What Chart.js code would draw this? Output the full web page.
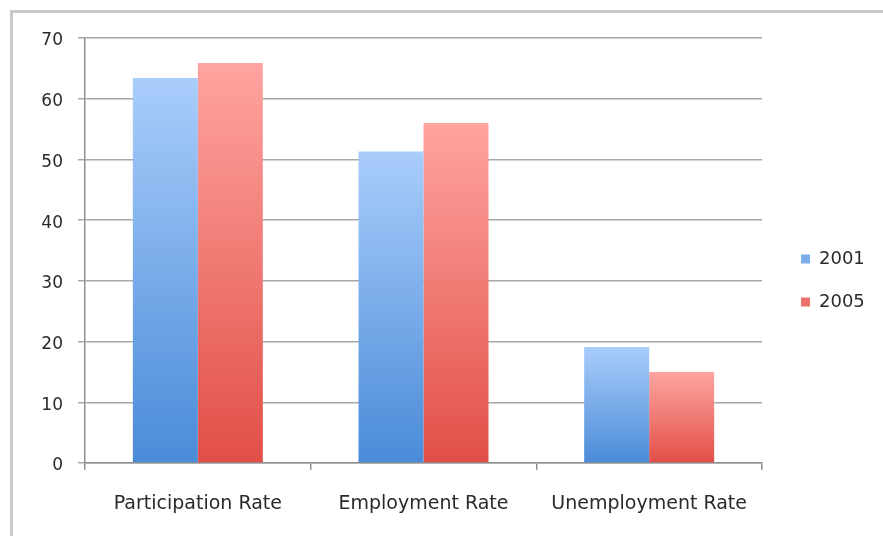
<!DOCTYPE html>
<html>
<head>
<meta charset="utf-8">
<script src="https://cdn.jsdelivr.net/npm/chart.js@4/dist/chart.umd.min.js"></script>
<style>
  html, body { margin: 0; padding: 0; background: #fff; overflow: hidden; }
  #wrap { position: relative; width: 883px; height: 536px; overflow: hidden; }
  #frameTop { position: absolute; left: 10px; top: 10px; width: 873px; height: 3px; background: #c9c9c9; }
  #frameLeft { position: absolute; left: 10px; top: 10px; width: 3px; height: 526px; background: #c9c9c9; }
  canvas { position: absolute; left: 0; top: 0; }
</style>
</head>
<body>
<div id="wrap">
  <div id="frameTop"></div>
  <div id="frameLeft"></div>
  <canvas id="c" width="883" height="536"></canvas>
</div>
<script>
const categories = ['Participation Rate', 'Employment Rate', 'Unemployment Rate'];
const seriesNames = ['2001', '2005'];
const values2001 = [63.4, 51.3, 19.1];
const values2005 = [65.9, 56.0, 15.0];
const yMin = 0;
const yMax = 70;
const yStep = 10;

const palette = {
  '2001': { top: '#a9cdfb', bottom: '#4a8bd8', solid: '#5c96e0' },
  '2005': { top: '#ffa4a0', bottom: '#e14f47', solid: '#e55c58' }
};

function barFill(name) {
  const p = palette[name];
  return function (ctx) {
    if (ctx.type !== 'data') return p.solid;
    const chart = ctx.chart;
    const area = chart.chartArea;
    const y = chart.scales.y;
    if (!area || !y) return p.solid;
    const topPx = y.getPixelForValue(ctx.raw);
    const botPx = y.getPixelForValue(0);
    if (!isFinite(topPx) || !isFinite(botPx) || botPx - topPx < 1) return p.solid;
    const g = chart.ctx.createLinearGradient(0, topPx, 0, botPx);
    g.addColorStop(0, p.top);
    g.addColorStop(1, p.bottom);
    return g;
  };
}

const legendPlace = {
  id: 'legendPlace',
  afterLayout(chart) {
    const lg = chart.legend;
    if (!lg) return;
    const w = lg.width, h = lg.height;
    lg.left = 776; lg.right = lg.left + w;
    lg.top = 225; lg.bottom = lg.top + h;
  }
};

const FONT = '"DejaVu Sans", "Open Sans", sans-serif';

new Chart(document.getElementById('c'), {
  type: 'bar',
  data: {
    labels: categories,
    datasets: [
      { label: seriesNames[0], data: values2001, backgroundColor: barFill('2001'), borderWidth: 0 },
      { label: seriesNames[1], data: values2005, backgroundColor: barFill('2005'), borderWidth: 0 }
    ]
  },
  options: {
    responsive: false,
    devicePixelRatio: 1,
    animation: false,
    categoryPercentage: 0.576,
    barPercentage: 1.0,
    layout: { padding: { top: 38, left: 0, right: 121, bottom: 0 } },
    plugins: {
      tooltip: { enabled: false },
      legend: {
        position: 'chartArea',
        align: 'start',
        labels: {
          boxWidth: 9, boxHeight: 9, padding: 25,
          color: '#2a2a2a',
          font: { family: FONT, size: 18 }
        }
      }
    },
    scales: {
      x: {
        grid: { drawOnChartArea: false, drawTicks: true, tickLength: 7, color: '#909090', lineWidth: 1.5 },
        border: { display: true, color: '#909090', width: 1.5 },
        ticks: { color: '#2a2a2a', font: { family: FONT, size: 19 }, padding: 23, maxRotation: 0 },
        afterFit: s => { s.height = 73; }
      },
      y: {
        min: yMin, max: yMax,
        grid: { color: '#a8a8a8', lineWidth: 1.5, tickLength: 7, drawTicks: true },
        border: { display: true, color: '#909090', width: 1.5 },
        ticks: { stepSize: yStep, color: '#2a2a2a', font: { family: FONT, size: 17 }, padding: 15, labelOffset: 3 },
        afterFit: s => { s.width = 85; }
      }
    }
  },
  plugins: [legendPlace]
});
</script>
</body>
</html>
